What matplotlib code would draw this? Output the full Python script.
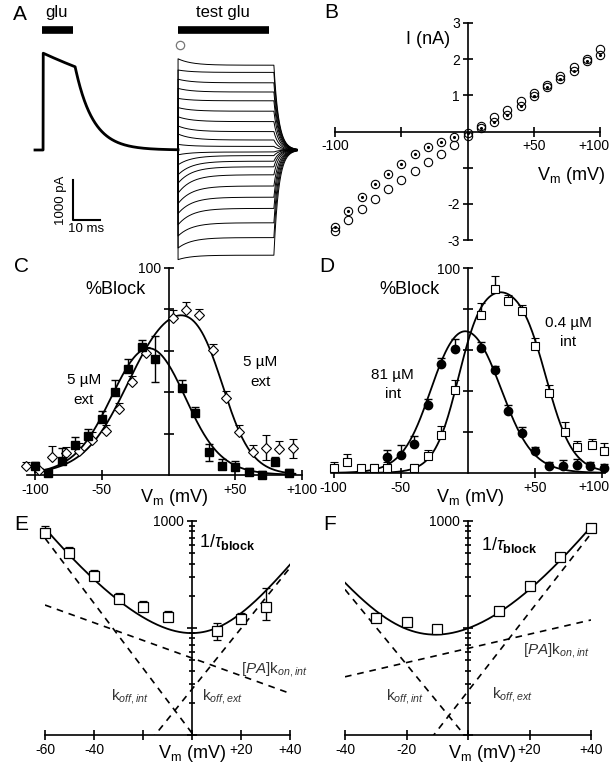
import numpy as np
import matplotlib
matplotlib.use('Agg')
import matplotlib.pyplot as plt
from matplotlib.ticker import FixedLocator, NullFormatter

plt.rcParams['font.family'] = ['Liberation Sans', 'DejaVu Sans']
plt.rcParams['mathtext.fontset'] = 'custom'
plt.rcParams['mathtext.rm'] = 'Liberation Sans'
plt.rcParams['mathtext.it'] = 'Liberation Sans:italic'
plt.rcParams['mathtext.bf'] = 'Liberation Sans:bold'

W, H = 613, 778

# --- B: I-V relation, peak (open) and steady state (dotted) ---
iv_v = np.arange(-100, 101, 10)
iv_peak = [-2.74, -2.45, -2.15, -1.87, -1.59, -1.34, -1.08, -0.83, -0.62, -0.37, -0.12,
           0.14, 0.40, 0.60, 0.83, 1.06, 1.29, 1.54, 1.77, 2.00, 2.28]
iv_ss = [-2.63, -2.19, -1.82, -1.46, -1.18, -0.90, -0.62, -0.42, -0.28, -0.14, -0.05,
         0.09, 0.25, 0.46, 0.71, 0.97, 1.23, 1.45, 1.68, 1.94, 2.12]

# --- A: glutamate response and test pulses (ms, pA) ---
glu_on, glu_off = 3.0, 14.7
glu_peak, glu_end = 2420, 2080
tau_glu_off = 6.5
test_on, test_off, tail_end = 52.4, 87.5, 96.0
tau_relax, tau_tail = 5.0, 1.8

# --- C: %block, external drug ---
c_sq_v = [-100, -90, -80, -70, -60, -50, -40, -30, -20, -10, 10, 20, 30, 40, 50, 60, 70, 80, 90]
c_sq_b = [4.5, 1, 7, 14.5, 19, 27, 40, 51, 62, 56, 42, 30, 11, 4.5, 4, 1.6, 0, 6.5, 1]
c_sq_up = [2, 1.5, 6, 4, 3, 4, 6, 5, 3, 11, 4, 3, 4, 3, 3, 2, 2, 2, 2]
c_sq_lo = [0, 0, 0, 0, 0, 0, 0, 0, 0, 11, 0, 0, 4, 0, 0, 0, 0, 0, 0]
c_di_v = [-107, -97, -87, -77, -67, -57, -47, -37, -27, -17, 3, 13, 23, 33, 43, 53, 63, 73, 83, 93]
c_di_b = [4.5, 2.4, 8.9, 10.5, 11.6, 17, 21.3, 32, 45, 59, 75.8, 79.8, 77.4, 60.5, 37.4,
          21, 11.3, 13.2, 12.4, 12.9]
c_di_up = [2, 1, 5, 3, 4, 4, 3, 3, 3, 3, 4, 4, 3, 3, 3, 3, 3, 6, 4, 4.5]
c_di_lo = [0, 0, 0, 0, 0, 0, 0, 0, 0, 0, 0, 0, 0, 0, 0, 0, 0, 6, 0, 4.5]
fit_c_sq = (85, -40, 15, 10, 14)
fit_c_di = (90, -30, 17, 40, 11)

# --- D: %block, internal drug ---
d_sq_v = [-100, -90, -80, -70, -60, -40, -30, -20, -10, 10, 20, 30, 40, 50, 60, 72, 81, 92, 101]
d_sq_b = [2.4, 5.4, 2.4, 2.4, 2.4, 2.4, 8.1, 18.7, 40.6, 77, 90, 84, 79, 62, 39, 20, 12.5, 13.5, 10.6]
d_sq_up = [3, 4, 1, 2, 3, 2, 3, 4, 5, 6, 6, 3, 3, 4, 4, 5, 3, 3, 4]
d_ci_v = [-60, -50, -40, -30, -20, -10, 10, 20, 30, 40, 50, 60, 71, 81, 91, 101]
d_ci_b = [8, 8.8, 14, 33, 53, 60.6, 61, 50, 30, 19.5, 10.6, 3.3, 3.3, 4, 3.3, 2.4]
d_ci_up = [3, 5, 4, 3, 3, 5, 3, 2, 3, 3, 2, 2, 3, 3, 2, 2]
fit_d_ci = (85, -27, 11, 24, 12)
fit_d_sq = (94, -7, 9, 58, 10)

# --- E, F: 1/tau_block (s^-1) ---
e_v = [-60, -50, -40, -30, -20, -10, 10, 20, 30]
e_rate = [767, 499, 308, 187, 158, 128, 94, 121, 158]
e_up = [140, 75, 40, 24, 21, 17, 18, 18, 76]
e_lo = [0, 0, 0, 0, 0, 0, 16, 10, 40]
e_koff_int = (10.4, -14.3)
e_koff_ext = (26.8, 15.3)
e_kon = (52.4, -52.6)

f_v = [-30, -20, -10, 10, 20, 30, 40]
f_rate = [123, 113, 97, 144, 247, 464, 865]
f_up = [14, 6, 5, 6, 10, 20, 40]
f_koff_int = (9.1, -12.4)
f_koff_ext = (25.7, 11.8)
f_kon = (64.5, 65.4)


def box(x0, y0, x1, y1):
    return [x0 / W, 1 - y1 / H, (x1 - x0) / W, (y1 - y0) / H]


def ftext(x, y, s, size=10, **kw):
    kw.setdefault('ha', 'center')
    kw.setdefault('va', 'center')
    fig.text(x / W, 1 - y / H, s, fontsize=size, **kw)


def bell(v, a, vr, kr, vf, kf):
    return a / (1 + np.exp(-(v - vr) / kr)) / (1 + np.exp((v - vf) / kf))


def rate(v, k0, s):
    return k0 * np.exp(v / s)


def cross_axes(ax, xzero=True):
    ax.patch.set_visible(False)
    ax.spines[['top', 'right']].set_visible(False)
    if xzero:
        ax.spines['left'].set_position(('data', 0))
    for sp in ax.spines.values():
        sp.set_linewidth(1.2)
    ax.tick_params(direction='inout', length=7, width=1.2, labelsize=10, pad=2)


fig = plt.figure(figsize=(W / 100, H / 100), dpi=100)

# ---------------- A ----------------
axa = fig.add_axes(box(0, 0, 310, 270))
axa.set_xlim(-35 / 2.73, 275 / 2.73)
axa.set_ylim(-3000, 3750)
axa.axis('off')

tau_des = (glu_off - glu_on) / np.log(glu_peak / glu_end)
t1 = np.linspace(0, test_on, 800)
i1 = np.where(t1 < glu_on, 0,
              np.where(t1 < glu_off, glu_peak * np.exp(-(t1 - glu_on) / tau_des),
                       glu_end * np.exp(-(t1 - glu_off) / tau_glu_off)))
axa.plot(t1, i1, color='k', lw=2.0)

for p, s in zip(iv_peak, iv_ss):
    t2 = np.linspace(test_on, test_off, 200)
    i2 = (s + (p - s) * np.exp(-(t2 - test_on) / tau_relax)) * 1000
    t3 = np.linspace(test_off, tail_end, 80)
    i3 = i2[-1] * np.exp(-(t3 - test_off) / tau_tail)
    axa.plot(np.r_[test_on, t2, t3], np.r_[0, i2, i3], color='k', lw=0.7)

axa.plot([test_on + 0.6], [2625], 'o', mfc='none', mec='#777', ms=6, mew=0.9)
axa.plot([2.6, 13.9], [3010, 3010], color='k', lw=5.5, solid_capstyle='butt')
axa.plot([52.4, 85.7], [3010, 3010], color='k', lw=5.5, solid_capstyle='butt')
axa.plot([13.9, 13.9, 23.9], [-750, -1750, -1750], color='k', lw=1.5)

ftext(20, 14, 'A', 15)
ftext(57, 13, 'glu', 12)
ftext(223, 13, 'test glu', 12)
ftext(61, 200, '1000 pA', 9.5, rotation=90)
ftext(86, 229, '10 ms', 9.5)

# ---------------- B ----------------
axb = fig.add_axes(box(335, 23, 600, 240))
axb.set_xlim(-100, 100)
axb.set_ylim(-3, 3)
cross_axes(axb)
axb.spines['bottom'].set_position(('data', 0))
axb.set_xticks([-100, -50, 50, 100])
axb.set_xticklabels(['-100', '', '+50', ''])
axb.set_yticks([-3, -2, -1, 1, 2, 3])
axb.set_yticklabels(['-3', '-2', '', '1', '2', '3'])
axb.plot(iv_v, iv_peak, 'o', mfc='none', mec='k', ms=6, mew=0.8, clip_on=False)
axb.plot(iv_v, iv_ss, 'o', mfc='none', mec='k', ms=6, mew=0.8, clip_on=False)
axb.plot(iv_v, iv_ss, '.', color='k', ms=2.5, clip_on=False)
ftext(594, 146, '+100', 10)
ftext(331, 12, 'B', 15)
ftext(450, 40, 'I (nA)', 13, ha='right')
ftext(605, 176, r'V$_\mathrm{m}$ (mV)', 13, ha='right')

# ---------------- C ----------------
vfit = np.linspace(-100, 95, 400)
axc = fig.add_axes(box(27, 268, 302, 475))
axc.set_xlim(-106, 100)
axc.set_ylim(0, 100)
cross_axes(axc)
axc.set_xticks([-100, -50, 50, 100])
axc.set_xticklabels(['-100', '-50', '+50', '+100'])
axc.set_yticks([20, 40, 60, 80, 100])
axc.set_yticklabels(['', '', '', '', '100'])
axc.plot(vfit, bell(vfit, *fit_c_sq), color='k', lw=1.3, zorder=2)
axc.plot(vfit, bell(vfit, *fit_c_di), color='k', lw=1.3, zorder=2)
axc.errorbar(c_di_v, c_di_b, yerr=[c_di_lo, c_di_up], fmt='D', ms=5.5, mfc='white', mec='k',
             mew=0.8, ecolor='k', elinewidth=1, capsize=3, capthick=1, zorder=3, clip_on=False)
axc.errorbar(c_sq_v, c_sq_b, yerr=[c_sq_lo, c_sq_up], fmt='s', ms=5.5, mfc='k', mec='k',
             ecolor='k', elinewidth=1, capsize=3, capthick=1, zorder=4, clip_on=False)
ftext(22, 267, 'C', 15)
ftext(115, 290, '%Block', 13)
ftext(84, 380, '5 µM', 11)
ftext(84, 400, 'ext', 11)
ftext(260, 362, '5 µM', 11)
ftext(261, 382, 'ext', 11)
ftext(174, 498, r'V$_\mathrm{m}$ (mV)', 13)

# ---------------- D ----------------
vfit = np.linspace(-100, 100, 400)
axd = fig.add_axes(box(331, 268, 605, 473))
axd.set_xlim(-102, 102)
axd.set_ylim(0, 100)
cross_axes(axd)
axd.set_xticks([-100, -50, 50, 100])
axd.set_xticklabels(['-100', '-50', '+50', ''])
axd.set_yticks([20, 40, 60, 80, 100])
axd.set_yticklabels(['', '', '', '', '100'])
axd.plot(vfit, bell(vfit, *fit_d_ci), color='k', lw=1.3, zorder=2)
axd.plot(vfit, bell(vfit, *fit_d_sq), color='k', lw=1.3, zorder=2)
axd.errorbar(d_ci_v, d_ci_b, yerr=[np.zeros(len(d_ci_up)), d_ci_up], fmt='o', ms=6, mfc='k',
             mec='k', ecolor='k', elinewidth=1, capsize=3, capthick=1, zorder=3, clip_on=False)
axd.errorbar(d_sq_v, d_sq_b, yerr=[np.zeros(len(d_sq_up)), d_sq_up], fmt='s', ms=6, mfc='white',
             mec='k', mew=0.8, ecolor='k', elinewidth=1, capsize=3, capthick=1, zorder=4,
             clip_on=False)
ftext(594, 487, '+100', 10)
ftext(327, 267, 'D', 15)
ftext(410, 290, '%Block', 13)
ftext(568, 323, '0.4 µM', 11)
ftext(568, 342, 'int', 11)
ftext(392, 375, '81 µM', 11)
ftext(393, 394, 'int', 11)
ftext(470, 498, r'V$_\mathrm{m}$ (mV)', 13)


# ---------------- E, F ----------------
def rate_panel(ax, v, r, up, lo, kint, kext, kon, vmin, vmax, ext_from):
    ax.set_yscale('log')
    ax.set_xlim(vmin, vmax)
    ax.set_ylim(10, 1000)
    cross_axes(ax)
    ax.yaxis.set_major_locator(FixedLocator([10, 100, 1000]))
    ax.yaxis.set_minor_locator(FixedLocator([m * d for d in (10, 100) for m in range(2, 10)]))
    ax.yaxis.set_major_formatter(plt.FixedFormatter(['', '', '1000']))
    ax.yaxis.set_minor_formatter(NullFormatter())
    ax.tick_params(axis='y', which='minor', direction='inout', length=5, width=1.2)
    vv = np.linspace(vmin, vmax, 300)
    total = rate(vv, *kint) + rate(vv, *kext) + rate(vv, *kon)
    ax.plot(vv, total, color='k', lw=1.3, zorder=2)
    dash = dict(color='k', lw=1.2, dashes=(4, 3.5), zorder=2)
    vi = np.linspace(vmin, 2, 100)
    ax.plot(vi, rate(vi, *kint), **dash)
    ve = np.linspace(ext_from, vmax, 100)
    ax.plot(ve, rate(ve, *kext), **dash)
    ax.plot(vv, rate(vv, *kon), **dash)
    ax.errorbar(v, r, yerr=[lo, up], fmt='s', ms=7, mfc='white', mec='k', mew=0.9,
                ecolor='k', elinewidth=1, capsize=3, capthick=1, zorder=4, clip_on=False)


axe = fig.add_axes(box(45, 521, 290, 735))
rate_panel(axe, e_v, e_rate, e_up, e_lo, e_koff_int, e_koff_ext, e_kon, -60, 40, -20)
axe.set_xticks([-60, -40, -20, 0, 20, 40])
axe.set_xticklabels(['-60', '-40', '', '', '+20', '+40'])
ftext(21, 525, 'E', 15)
ftext(199, 542, r'1/$\tau_{\mathbf{block}}$', 13, ha='left')
ftext(130, 697, r'k$_{off,int}$', 11, color='#333')
ftext(222, 697, r'k$_{off,ext}$', 11, color='#333')
ftext(274, 670, r'$[PA]$k$_{on,int}$', 11, color='#333')
ftext(192, 754, r'V$_\mathrm{m}$ (mV)', 13)

axf = fig.add_axes(box(345, 521, 591, 735))
rate_panel(axf, f_v, f_rate, f_up, np.zeros(len(f_up)), f_koff_int, f_koff_ext, f_kon,
           -40, 40, -12)
axf.set_xticks([-40, -20, 0, 20, 40])
axf.set_xticklabels(['-40', '-20', '', '+20', '+40'])
ftext(330, 525, 'F', 15)
ftext(481, 545, r'1/$\tau_{\mathbf{block}}$', 13, ha='left')
ftext(405, 697, r'k$_{off,int}$', 11, color='#333')
ftext(512, 695, r'k$_{off,ext}$', 11, color='#333')
ftext(556, 650, r'$[PA]$k$_{on,int}$', 11, color='#333')
ftext(482, 754, r'V$_\mathrm{m}$ (mV)', 13)

fig.savefig('out.png', dpi=100)
